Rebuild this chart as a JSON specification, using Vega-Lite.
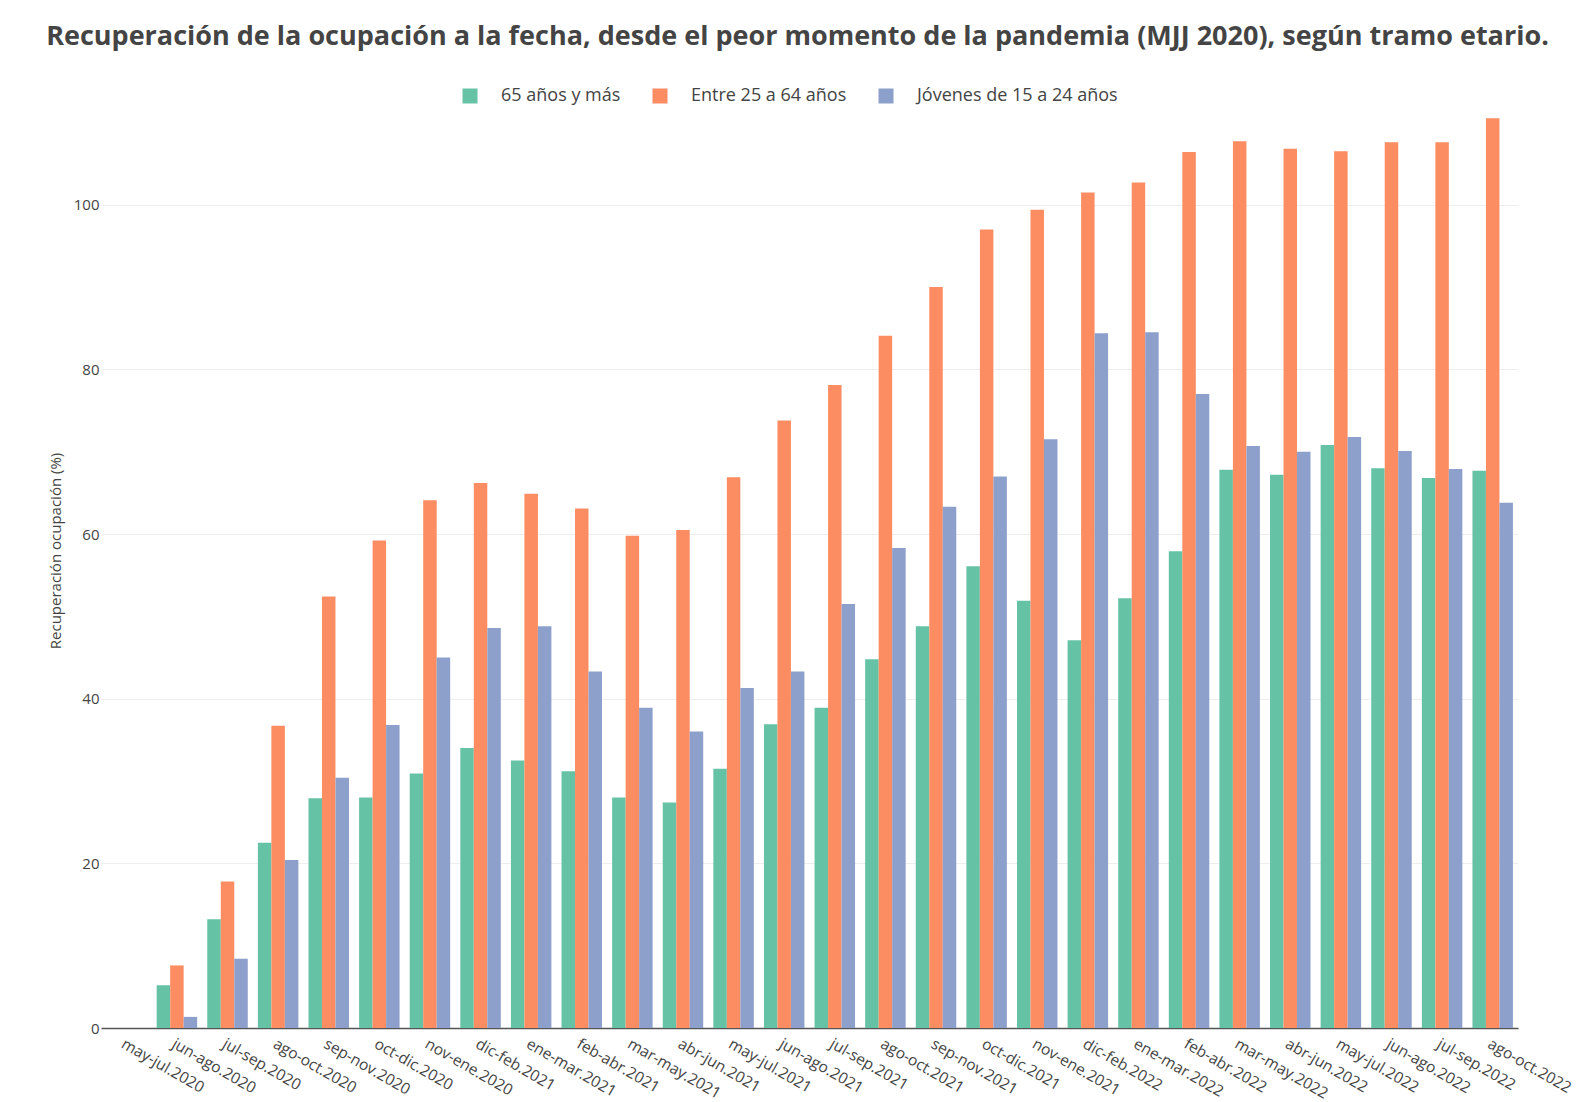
{
  "$schema": "https://vega.github.io/schema/vega-lite/v6.json",
  "width": 1417,
  "height": 955,
  "autosize": {"type": "none"},
  "padding": {"left": 101, "top": 73, "right": 70, "bottom": 74},
  "background": "white",
  "title": {
    "text": "Recuperación de la ocupación a la fecha, desde el peor momento de la pandemia (MJJ 2020), según tramo etario.",
    "anchor": "middle",
    "frame": "group",
    "dx": -12,
    "offset": 1,
    "baseline": "alphabetic",
    "font": "Open Sans",
    "fontWeight": "bold",
    "fontSize": 27,
    "color": "#444444"
  },
  "data": {
    "values": [
      {"periodo": "may-jul.2020", "grupo": "65 años y más", "valor": 0},
      {"periodo": "may-jul.2020", "grupo": "Entre 25 a 64 años", "valor": 0},
      {"periodo": "may-jul.2020", "grupo": "Jóvenes de 15 a 24 años", "valor": 0},
      {"periodo": "jun-ago.2020", "grupo": "65 años y más", "valor": 5.2},
      {"periodo": "jun-ago.2020", "grupo": "Entre 25 a 64 años", "valor": 7.6},
      {"periodo": "jun-ago.2020", "grupo": "Jóvenes de 15 a 24 años", "valor": 1.35},
      {"periodo": "jul-sep.2020", "grupo": "65 años y más", "valor": 13.2},
      {"periodo": "jul-sep.2020", "grupo": "Entre 25 a 64 años", "valor": 17.8},
      {"periodo": "jul-sep.2020", "grupo": "Jóvenes de 15 a 24 años", "valor": 8.4},
      {"periodo": "ago-oct.2020", "grupo": "65 años y más", "valor": 22.5},
      {"periodo": "ago-oct.2020", "grupo": "Entre 25 a 64 años", "valor": 36.7},
      {"periodo": "ago-oct.2020", "grupo": "Jóvenes de 15 a 24 años", "valor": 20.4},
      {"periodo": "sep-nov.2020", "grupo": "65 años y más", "valor": 27.9},
      {"periodo": "sep-nov.2020", "grupo": "Entre 25 a 64 años", "valor": 52.4},
      {"periodo": "sep-nov.2020", "grupo": "Jóvenes de 15 a 24 años", "valor": 30.4},
      {"periodo": "oct-dic.2020", "grupo": "65 años y más", "valor": 28.0},
      {"periodo": "oct-dic.2020", "grupo": "Entre 25 a 64 años", "valor": 59.2},
      {"periodo": "oct-dic.2020", "grupo": "Jóvenes de 15 a 24 años", "valor": 36.8},
      {"periodo": "nov-ene.2020", "grupo": "65 años y más", "valor": 30.9},
      {"periodo": "nov-ene.2020", "grupo": "Entre 25 a 64 años", "valor": 64.1},
      {"periodo": "nov-ene.2020", "grupo": "Jóvenes de 15 a 24 años", "valor": 45.0},
      {"periodo": "dic-feb.2021", "grupo": "65 años y más", "valor": 34.0},
      {"periodo": "dic-feb.2021", "grupo": "Entre 25 a 64 años", "valor": 66.2},
      {"periodo": "dic-feb.2021", "grupo": "Jóvenes de 15 a 24 años", "valor": 48.6},
      {"periodo": "ene-mar.2021", "grupo": "65 años y más", "valor": 32.5},
      {"periodo": "ene-mar.2021", "grupo": "Entre 25 a 64 años", "valor": 64.9},
      {"periodo": "ene-mar.2021", "grupo": "Jóvenes de 15 a 24 años", "valor": 48.8},
      {"periodo": "feb-abr.2021", "grupo": "65 años y más", "valor": 31.2},
      {"periodo": "feb-abr.2021", "grupo": "Entre 25 a 64 años", "valor": 63.1},
      {"periodo": "feb-abr.2021", "grupo": "Jóvenes de 15 a 24 años", "valor": 43.3},
      {"periodo": "mar-may.2021", "grupo": "65 años y más", "valor": 28.0},
      {"periodo": "mar-may.2021", "grupo": "Entre 25 a 64 años", "valor": 59.8},
      {"periodo": "mar-may.2021", "grupo": "Jóvenes de 15 a 24 años", "valor": 38.9},
      {"periodo": "abr-jun.2021", "grupo": "65 años y más", "valor": 27.4},
      {"periodo": "abr-jun.2021", "grupo": "Entre 25 a 64 años", "valor": 60.5},
      {"periodo": "abr-jun.2021", "grupo": "Jóvenes de 15 a 24 años", "valor": 36.0},
      {"periodo": "may-jul.2021", "grupo": "65 años y más", "valor": 31.5},
      {"periodo": "may-jul.2021", "grupo": "Entre 25 a 64 años", "valor": 66.9},
      {"periodo": "may-jul.2021", "grupo": "Jóvenes de 15 a 24 años", "valor": 41.3},
      {"periodo": "jun-ago.2021", "grupo": "65 años y más", "valor": 36.9},
      {"periodo": "jun-ago.2021", "grupo": "Entre 25 a 64 años", "valor": 73.8},
      {"periodo": "jun-ago.2021", "grupo": "Jóvenes de 15 a 24 años", "valor": 43.3},
      {"periodo": "jul-sep.2021", "grupo": "65 años y más", "valor": 38.9},
      {"periodo": "jul-sep.2021", "grupo": "Entre 25 a 64 años", "valor": 78.1},
      {"periodo": "jul-sep.2021", "grupo": "Jóvenes de 15 a 24 años", "valor": 51.5},
      {"periodo": "ago-oct.2021", "grupo": "65 años y más", "valor": 44.8},
      {"periodo": "ago-oct.2021", "grupo": "Entre 25 a 64 años", "valor": 84.1},
      {"periodo": "ago-oct.2021", "grupo": "Jóvenes de 15 a 24 años", "valor": 58.3},
      {"periodo": "sep-nov.2021", "grupo": "65 años y más", "valor": 48.8},
      {"periodo": "sep-nov.2021", "grupo": "Entre 25 a 64 años", "valor": 90.0},
      {"periodo": "sep-nov.2021", "grupo": "Jóvenes de 15 a 24 años", "valor": 63.3},
      {"periodo": "oct-dic.2021", "grupo": "65 años y más", "valor": 56.1},
      {"periodo": "oct-dic.2021", "grupo": "Entre 25 a 64 años", "valor": 97.0},
      {"periodo": "oct-dic.2021", "grupo": "Jóvenes de 15 a 24 años", "valor": 67.0},
      {"periodo": "nov-ene.2021", "grupo": "65 años y más", "valor": 51.9},
      {"periodo": "nov-ene.2021", "grupo": "Entre 25 a 64 años", "valor": 99.4},
      {"periodo": "nov-ene.2021", "grupo": "Jóvenes de 15 a 24 años", "valor": 71.5},
      {"periodo": "dic-feb.2022", "grupo": "65 años y más", "valor": 47.1},
      {"periodo": "dic-feb.2022", "grupo": "Entre 25 a 64 años", "valor": 101.5},
      {"periodo": "dic-feb.2022", "grupo": "Jóvenes de 15 a 24 años", "valor": 84.4},
      {"periodo": "ene-mar.2022", "grupo": "65 años y más", "valor": 52.2},
      {"periodo": "ene-mar.2022", "grupo": "Entre 25 a 64 años", "valor": 102.7},
      {"periodo": "ene-mar.2022", "grupo": "Jóvenes de 15 a 24 años", "valor": 84.5},
      {"periodo": "feb-abr.2022", "grupo": "65 años y más", "valor": 57.9},
      {"periodo": "feb-abr.2022", "grupo": "Entre 25 a 64 años", "valor": 106.4},
      {"periodo": "feb-abr.2022", "grupo": "Jóvenes de 15 a 24 años", "valor": 77.0},
      {"periodo": "mar-may.2022", "grupo": "65 años y más", "valor": 67.8},
      {"periodo": "mar-may.2022", "grupo": "Entre 25 a 64 años", "valor": 107.7},
      {"periodo": "mar-may.2022", "grupo": "Jóvenes de 15 a 24 años", "valor": 70.7},
      {"periodo": "abr-jun.2022", "grupo": "65 años y más", "valor": 67.2},
      {"periodo": "abr-jun.2022", "grupo": "Entre 25 a 64 años", "valor": 106.8},
      {"periodo": "abr-jun.2022", "grupo": "Jóvenes de 15 a 24 años", "valor": 70.0},
      {"periodo": "may-jul.2022", "grupo": "65 años y más", "valor": 70.8},
      {"periodo": "may-jul.2022", "grupo": "Entre 25 a 64 años", "valor": 106.5},
      {"periodo": "may-jul.2022", "grupo": "Jóvenes de 15 a 24 años", "valor": 71.8},
      {"periodo": "jun-ago.2022", "grupo": "65 años y más", "valor": 68.0},
      {"periodo": "jun-ago.2022", "grupo": "Entre 25 a 64 años", "valor": 107.6},
      {"periodo": "jun-ago.2022", "grupo": "Jóvenes de 15 a 24 años", "valor": 70.1},
      {"periodo": "jul-sep.2022", "grupo": "65 años y más", "valor": 66.8},
      {"periodo": "jul-sep.2022", "grupo": "Entre 25 a 64 años", "valor": 107.6},
      {"periodo": "jul-sep.2022", "grupo": "Jóvenes de 15 a 24 años", "valor": 67.9},
      {"periodo": "ago-oct.2022", "grupo": "65 años y más", "valor": 67.7},
      {"periodo": "ago-oct.2022", "grupo": "Entre 25 a 64 años", "valor": 110.5},
      {"periodo": "ago-oct.2022", "grupo": "Jóvenes de 15 a 24 años", "valor": 63.8}
    ]
  },
  "mark": {"type": "bar"},
  "encoding": {
    "x": {
      "field": "periodo",
      "type": "nominal",
      "sort": null,
      "scale": {"paddingInner": 0.2, "paddingOuter": 0.1},
      "axis": {
        "title": null,
        "labelAngle": 30,
        "labelAlign": "left",
        "labelBaseline": "top",
        "labelPadding": 8,
        "labelOverlap": false,
        "labelBound": false,
        "labelFont": "Open Sans",
        "labelFontSize": 15.5,
        "labelColor": "#444444",
        "ticks": false,
        "domainColor": "#555555",
        "domainWidth": 1.5,
        "grid": false
      }
    },
    "xOffset": {
      "field": "grupo",
      "type": "nominal",
      "sort": ["65 años y más", "Entre 25 a 64 años", "Jóvenes de 15 a 24 años"],
      "scale": {"paddingInner": 0, "paddingOuter": 0}
    },
    "y": {
      "field": "valor",
      "type": "quantitative",
      "scale": {"domain": [0, 116], "nice": false},
      "axis": {
        "title": "Recuperación ocupación (%)",
        "titleFont": "Open Sans",
        "titleFontSize": 15,
        "titleFontWeight": "normal",
        "titleColor": "#444444",
        "titlePadding": 10,
        "values": [0, 20, 40, 60, 80, 100],
        "labelFont": "Open Sans",
        "labelFontSize": 15,
        "labelColor": "#444444",
        "labelPadding": 2,
        "ticks": false,
        "domain": false,
        "gridColor": "#eeeeee",
        "gridWidth": 1
      }
    },
    "color": {
      "field": "grupo",
      "type": "nominal",
      "sort": ["65 años y más", "Entre 25 a 64 años", "Jóvenes de 15 a 24 años"],
      "scale": {"range": ["#66c2a5", "#fc8d62", "#8da0cb"]},
      "legend": {
        "title": null,
        "orient": "none",
        "direction": "horizontal",
        "legendX": 360,
        "legendY": 14,
        "padding": 0,
        "symbolType": "square",
        "symbolSize": 225,
        "symbolStrokeWidth": 0,
        "symbolOpacity": 1,
        "labelFont": "Open Sans",
        "labelFontSize": 18,
        "labelLimit": 500,
        "labelColor": "#444444",
        "labelOffset": 22,
        "columnPadding": 30
      }
    }
  },
  "config": {"view": {"stroke": null}}
}
